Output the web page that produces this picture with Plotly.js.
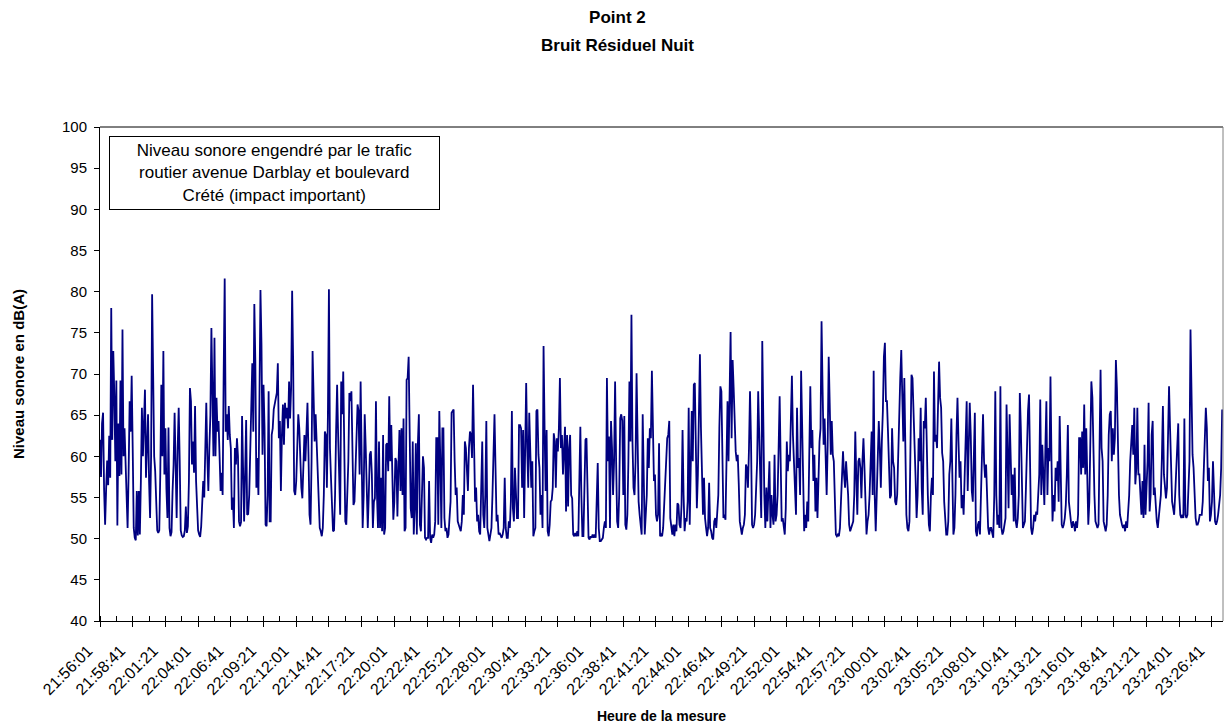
<!DOCTYPE html>
<html lang="fr">
<head>
<meta charset="utf-8">
<title>Point 2 – Bruit Résiduel Nuit</title>
<script src="https://cdn.plot.ly/plotly-3.0.1.min.js"></script>
<style>
  html, body { margin: 0; padding: 0; background: #ffffff; }
  #graph { width: 1225px; height: 724px; }
</style>
</head>
<body>
<div id="graph"></div>
<script>
// Relevé sonore du point 2, bruit résiduel de nuit, un niveau LAeq toutes les 5 s
const debutMesure = '21:56:01';
const pasSecondes = 5;

// Niveaux en dB(A), par tranche d'environ 11 min 25 s
const bloc_2156 = [62,57.5,64,65.3,56,51.7,56,59.5,56.5,62.5,57.4,78,62,72.8,67.5,59.4,69.2,51.6,64,57.6,69.2,57.8,75.4,60,63.4,58.6,56,51.3,58,66.7,63,69.8,61,51.3,50.1,49.8,55.8,50.4,55.8,50.5,57,65.9,60,63,68.1,57.4,63,65.1,57,52.5,60,79.7,70,60,58.2,55,51,50.7,51,58,68.7,60,72.8,57.8,63.4,56,52.5,63.5,51.3,50.3,50.8,55.8,59,65.3,56.5,52.5,61,65.9,59.4,51,50.4,50.2,50.3,51,53.9,50.7,51.5,57,68.3,66.7,59,61.8,58,66.1,57,52.9,51,50.5,50.2,51.5,54.5,57,55,61.4,66.5,60,55.8,61,65,75.6,65,60,74.4,60,67.1,63,64.3,59.8,55.8,58,55.3,70,81.6,63,65.1,62,66.1,62.6,61,53.5,55,51.3,61,59,62.2,60,52.1];
const bloc_2207 = [51.5,52,64.9,60,52.1,58,64.4,52.9,53,55.3,59.8,65,71.3,63,78.5,71.5,56.2,59.8,55.3,66.7,80.2,73.6,60.2,68.7,63.4,51.7,51.5,55.3,67.9,52.1,52.1,62.6,63.4,65.7,66.3,66.7,67.7,71.3,62.2,64.3,55.8,62.6,66.3,61.4,66.5,64.6,65.9,63.4,69.1,64.6,68.3,80.1,71.5,55.8,55.3,57,60.2,65.1,63.4,58.6,56.2,54.9,57.8,62.6,59.4,64.6,66.5,60.2,52.9,51.7,59.4,72.8,65.1,61.8,65.1,61.6,57.4,52.9,51.3,50.9,50.3,51.3,55.3,63,62.6,56.2,65,80.3,61,57.4,54.5,50.9,51,55.3,63,68.7,62.6,57.4,52.9,69.1,65.1,70.3,58.6,52.1,51.7,55.8,59.4,67.7,66.7,67.9,57.4,54.1,54.5,59.4,61,66.3,65.5,57.8,69.1,61,51.3,55.3,65.1,61,55.3,51.3,55.3,60.2,60.6,57.8,51.3,54.5,54.9,66.7,55.3,51.3,61.8];
const bloc_2218 = [51.3,57.4,50.9,62.6,50.5,51.3,61.4,61.6,58.2,67.3,59.4,63.8,59.4,52.3,54.5,59.8,59.4,52.7,58.6,63.2,55.8,63.4,55.3,64.6,50.9,51.3,69.3,69.5,72.1,63.8,53.7,52.5,61.8,50.5,53.7,61.6,50.5,61.4,65.1,51.7,50.9,55.3,60,58.6,50.1,49.9,50.1,50.1,57,50.1,49.5,50.5,50.1,50.5,52.1,62.2,62.2,51.7,65.5,59.4,51.3,63.4,63.4,52.5,50.9,51.3,50.1,50.5,52.1,54.5,65.3,65.5,65.7,59.4,55.3,56.2,52.1,51.7,51.3,50.9,52.1,55.3,52.9,61.8,61,58.6,55.8,61,63,62.6,59.8,68.7,63.4,54.5,56.2,52.1,52.9,50.9,50.5,55.3,61.8,52.9,51.3,55.3,64.3,51.3,50.5,49.7,50.5,51.3,55.3,59.4,65.1,58.6,52.1,52.9,50.5,50.7,50.3,50.1,50.5,51.3,57.4,51.3,50.1,50.1,52.1,51.3,54.5,65.5,53.7,52.1,58.6,56.2,52.5,52.5,63.8];
const bloc_2230 = [63.8,63.4,56.2,63.2,52.5,59.4,68.9,61,56.2,65.3,59.4,56.2,59.4,50.3,50.9,51.3,65.5,65.7,60.2,58.6,52.9,55.3,51.3,73.4,63.4,55.8,63.2,50.9,50.3,51.7,54.5,54.7,56.2,62.8,61.8,56.2,62.2,60.6,63.4,69.5,61,62.6,57.8,62.2,63.6,53.3,62.6,53.9,61,62.6,55.3,54.9,50.5,50.3,50.7,50.3,50.9,50.3,55.3,63.6,55.3,50.3,50.3,55.3,62,62.2,53.7,50.1,49.9,50.3,50.1,50.5,50.1,50.5,50.1,55.3,59.2,51.3,49.7,49.7,49.9,50.1,51.3,52.1,51.3,69.5,59.4,62.4,51.3,64.3,61,55.3,59.4,69.1,59.4,52.1,51.3,55.3,64.6,65.1,64.3,55.3,64.9,51.7,51.1,52.9,59.4,69.1,61.8,77.2,61.8,56.2,55.3,59.4,70.1,59.4,54.5,52.9,51.3,50.5,65.1,57.8,50.5,52.9,55.3,62.2,58.6,63.4,62.2,70.4,61,57,57.8,52.9,52.1,52.9,61.6];
const bloc_2241 = [50.3,50.5,50.3,51.3,54.5,57.8,61,62.2,62.6,64.3,52.5,51.3,50.5,51.7,50.3,51.7,50.9,54.3,54.1,51.7,51.3,54.1,63.2,55.3,50.9,52.5,52.1,54.5,65.9,51.7,57.8,65.5,59.4,68.7,68.9,59.8,53.7,57.8,65.7,72.4,63.4,55.8,52.9,57.4,52.5,51.3,50.3,51.3,56.8,51.3,50.9,50.1,49.9,52.1,52.5,51.3,52.9,55.3,63.4,68.5,67.9,57.8,52.5,52.9,52.3,59.4,66.7,59.4,65.5,75.1,62.2,71.7,68.3,62.2,60.6,59.4,60.2,56.6,52.1,51.3,50.5,51.3,51.7,52.9,59,58.6,56.2,61,67.9,61.8,51.7,51.3,51.7,52.9,55.8,59.4,67.9,62.6,55.3,52.5,74,63.4,55.3,51.3,56.2,52.1,57,59.4,51.3,55.3,52.9,51.7,60.2,52.1,52.9,55.3,61,67.3,59.4,52.1,52.5,51.7,50.5,53.7,61.8,58.2,60.2,59.4,63.4,69.8,62.6,59.4,57,52.9,65.9,58.6,59.8];
const bloc_2253 = [55.3,70.4,61,57.4,50.9,52.9,51.3,54.5,52.1,60.2,68.5,61,63.2,57,60.2,53.3,57.4,52.5,59.8,61.8,63.4,76.4,68.3,61.4,64.6,60.2,55.3,61.4,72.1,66.3,60.2,64.3,60.2,59.4,53.3,50.5,50.3,50.5,50.3,51.3,54.5,57.4,60.6,57.8,56.2,59.4,57.4,55.3,51.7,50.9,51.3,51.7,52.1,55.3,63,57.4,52.9,59.4,59.8,58.6,54.9,59.4,62.2,58.6,52.9,50.5,52.1,52.9,55.3,58.6,63,55.3,70.4,55.3,50.9,55.3,59.4,64.3,61,56.2,61.8,65.5,72.1,73.8,66.7,66.7,63,59.4,54.9,55.3,63.4,59.4,58.6,54.5,54.1,55.3,61.4,66.3,69.5,72.9,68.3,61.8,69.5,58.6,52.9,51.3,50.9,52.1,61,69.9,69.5,66.3,61.4,57.4,52.5,55.3,62.2,59.4,65.9,56.2,52.9,64.3,63.4,67.1,59.4,55.3,51.7,50.9,55.3,57.4,55.3,70.3,61.8,62.6,61,66.7,71.5];
const bloc_2304 = [67.1,65.9,60.4,59.4,54.5,52.1,50.5,50.5,52.1,57.8,59.4,64.6,54.5,50.5,51.3,55.3,62.6,67.1,61.8,57.4,59.4,53.7,55.3,52.9,57.4,61.8,66.7,55.8,63.8,66.5,62.6,55.8,54.5,61,65.3,50.9,50.3,51.7,52.1,50.5,55.3,59.4,65.1,59.4,57.4,59,55.3,51.3,50.5,51.3,51.3,50.5,50.1,55.3,67.9,55.3,51.7,52.9,51.3,68.5,51.3,50.5,50.9,51.7,52.5,66.3,57.8,53.7,65.1,61,55.3,57.8,52.1,58.6,52.1,51.3,52.5,55.3,67.7,63.4,55.3,51.3,51.7,52.1,56.2,62.6,65.5,67.5,57.8,51.3,50.5,51.3,52.9,52.1,53.3,52.9,55.3,57.8,66.9,55.3,61.4,57.8,54.1,61,66.7,55.3,61,59.4,69.7,59.4,52.1,55.3,53.3,58.6,57,59.4,54.5,64.9,57.8,51.7,51.3,51.7,52.5,54.1,57.8,63.8,54.5,52.9,52.1,51.3,52.1,51.7,50.9,52.1,51.3,52.9,62.2];
const bloc_2315 = [62.2,57.8,63,58.6,66.3,57.8,63.4,57,51.7,54.5,65.5,69.1,67.1,59.4,55.3,52.1,51.7,51.3,51.7,59.4,70.5,61,59.4,52.1,51.3,50.9,51.7,55.3,62.6,65.1,65.5,59.4,63.4,60.2,62.2,71.7,68.3,59,55.3,52.9,52.1,51.7,51.3,51.7,50.9,52.1,51.3,52.9,55.3,59.4,62.6,63.8,60.2,65.9,56.6,58.6,65.9,57.8,57.8,55.3,52.9,57,52.5,61.4,52.9,56.2,59.4,66.5,53.3,55.3,62.6,64.3,55.3,56.2,53.7,52.1,51.3,52.9,54.5,55.3,59.8,66.1,57.8,55.8,54.9,56.2,61,68.5,63.4,59.4,54.5,53.7,52.9,55.3,57.8,61,64,55.3,52.9,52.5,52.9,52.5,64.6,52.9,52.5,52.9,55.3,59.4,75.4,65.5,60.2,58.6,54.5,52.5,51.7,51.7,52.1,52.9,52.9,52.9,54.5,59.4,62.6,65.9,63.4,57,58.6,52.1,52.9,54.5,59.4,55.3,52.1,51.7,52.1,52.9,54.1,55.3,58.6,65.7];

// Étiquettes horaires de l'axe des abscisses (une toutes les 160 s, graduation toutes les 80 s)
const etiquettesHeure = ['21:56:01','21:58:41','22:01:21','22:04:01','22:06:41','22:09:21','22:12:01','22:14:41','22:17:21','22:20:01','22:22:41','22:25:21','22:28:01','22:30:41','22:33:21','22:36:01','22:38:41','22:41:21','22:44:01','22:46:41','22:49:21','22:52:01','22:54:41','22:57:21','23:00:01','23:02:41','23:05:21','23:08:01','23:10:41','23:13:21','23:16:01','23:18:41','23:21:21','23:24:01','23:26:41'];
const intervalleEtiquettes = 160;
const intervalleGraduations = 80;
const dureeAffichee = 5494;

const niveaux = [].concat(bloc_2156, bloc_2207, bloc_2218, bloc_2230, bloc_2241, bloc_2253, bloc_2304, bloc_2315);
const secondes = niveaux.map((_, i) => i * pasSecondes);

const graduations = [];
const textesGraduations = [];
for (let s = 0; s <= etiquettesHeure.length * intervalleEtiquettes - intervalleEtiquettes; s += intervalleGraduations) {
  graduations.push(s);
  textesGraduations.push(s % intervalleEtiquettes === 0 ? etiquettesHeure[s / intervalleEtiquettes] : '');
}

const police = 'Liberation Sans, Arial, Helvetica, sans-serif';

const trace = {
  type: 'scatter',
  mode: 'lines',
  x: secondes,
  y: niveaux,
  line: { color: '#000080', width: 1.8 },
  hoverinfo: 'skip'
};

const layout = {
  width: 1225,
  height: 724,
  margin: { l: 100, r: 2, t: 127, b: 103 },
  paper_bgcolor: '#ffffff',
  plot_bgcolor: '#ffffff',
  showlegend: false,
  font: { family: police, size: 14, color: '#000000' },
  title: {
    text: 'Point 2',
    font: { family: police, size: 17, weight: 'bold', color: '#000000' },
    xref: 'container', x: 0.504, xanchor: 'center',
    yref: 'container', y: 1 - 17 / 724, yanchor: 'middle'
  },
  xaxis: {
    range: [0, dureeAffichee],
    tickmode: 'array',
    tickvals: graduations,
    ticktext: textesGraduations,
    tickangle: -45,
    ticks: 'outside',
    ticklen: 5,
    tickwidth: 1,
    tickcolor: '#000000',
    ticklabelshift: -12,
    ticklabelstandoff: 8,
    minor: { tickmode: 'array', tickvals: graduations, ticks: 'inside', ticklen: 5, tickwidth: 1, tickcolor: '#000000' },
    tickfont: { family: police, size: 16, color: '#000000' },
    showline: true, linecolor: '#000000', linewidth: 1,
    showgrid: false, zeroline: false,
    title: { text: 'Heure de la mesure', font: { family: police, size: 14, weight: 'bold', color: '#000000' }, standoff: 16 }
  },
  yaxis: {
    range: [40, 100],
    tick0: 40,
    dtick: 5,
    ticks: 'outside',
    ticklen: 5,
    tickwidth: 1,
    tickcolor: '#000000',
    ticklabelstandoff: 4,
    tickfont: { family: police, size: 15, color: '#000000' },
    showline: true, linecolor: '#000000', linewidth: 1,
    showgrid: false, zeroline: false,
    title: { text: 'Niveau sonore en dB(A)', font: { family: police, size: 15, weight: 'bold', color: '#000000' }, standoff: 33 }
  },
  shapes: [
    { type: 'line', xref: 'paper', yref: 'paper', x0: 0, x1: 1, y0: 1, y1: 1, line: { color: '#000000', width: 1 } },
    { type: 'line', xref: 'paper', yref: 'paper', x0: 1, x1: 1, y0: 0, y1: 1, line: { color: '#808080', width: 1 } }
  ],
  annotations: [
    {
      text: 'Bruit Résiduel Nuit',
      xref: 'paper', x: (617 - 100) / 1123, xanchor: 'center',
      yref: 'paper', y: (621 - 45) / 494, yanchor: 'middle',
      showarrow: false,
      font: { family: police, size: 17, weight: 'bold', color: '#000000' }
    },
    {
      text: 'Niveau sonore engendré par le trafic<br>routier avenue Darblay et boulevard<br>Crété (impact important)',
      xref: 'paper', x: 9 / 1123, xanchor: 'left',
      yref: 'paper', y: (621 - 136) / 494, yanchor: 'top',
      width: 329, height: 72,
      align: 'center', valign: 'middle',
      showarrow: false,
      bgcolor: '#ffffff',
      bordercolor: '#000000', borderwidth: 1, borderpad: 0,
      font: { family: police, size: 17, color: '#000000' }
    }
  ]
};

Plotly.newPlot('graph', [trace], layout, { displayModeBar: false, staticPlot: true });
</script>
</body>
</html>
